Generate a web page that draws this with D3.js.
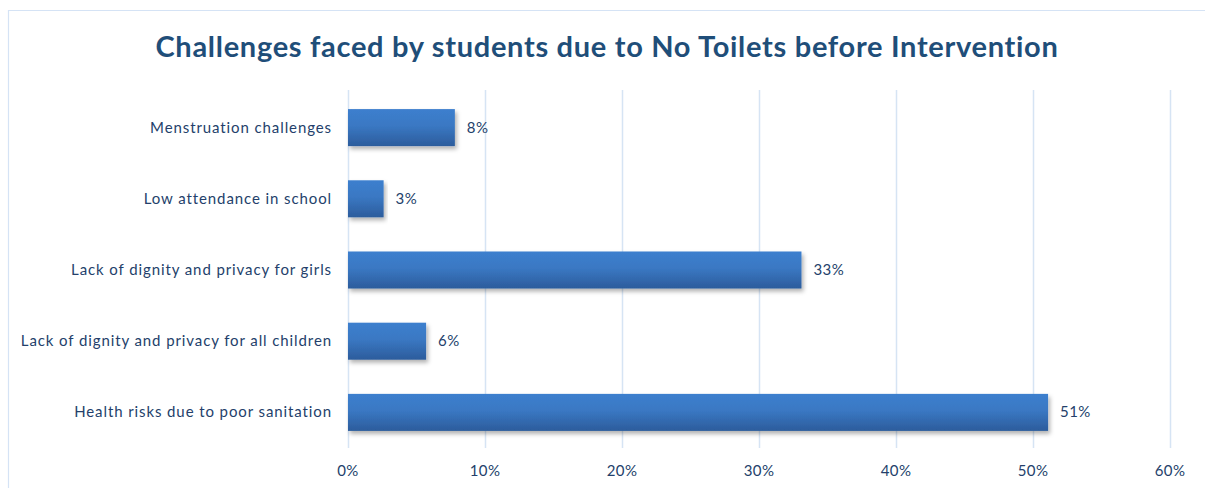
<!DOCTYPE html>
<meta charset="utf-8">
<html>
<style>
body { margin:0; background:#fff; }
text { font-family: Lato, "Open Sans", sans-serif; }
</style>
<body>
<script src="https://cdn.jsdelivr.net/npm/d3@7"></script>
<script>
var categories = ["Menstruation challenges", "Low attendance in school", "Lack of dignity and privacy for girls", "Lack of dignity and privacy for all children", "Health risks due to poor sanitation"];
var values = [7.8, 2.6, 33.1, 5.7, 51.1];
var valueLabels = ["8%", "3%", "33%", "6%", "51%"];
var ticks = [0, 10, 20, 30, 40, 50, 60];

var width = 1205, height = 488;
var svg = d3.select("body").append("svg").attr("width", width).attr("height", height);

var defs = svg.append("defs");
var grad = defs.append("linearGradient").attr("id", "barGrad").attr("x1", 0).attr("y1", 0).attr("x2", 0).attr("y2", 1);
grad.append("stop").attr("offset", "0%").attr("stop-color", "#3c7fce");
grad.append("stop").attr("offset", "45%").attr("stop-color", "#3a78c3");
grad.append("stop").attr("offset", "100%").attr("stop-color", "#2c5c9c");
var shadow = defs.append("filter").attr("id", "shadow").attr("x", "-5%").attr("y", "-20%").attr("width", "115%").attr("height", "160%");
shadow.append("feDropShadow").attr("dx", 2).attr("dy", 3).attr("stdDeviation", 2).attr("flood-color", "#000").attr("flood-opacity", 0.3);

// chart border
svg.append("path").attr("d", "M8.5," + height + "V10.5H" + width)
  .attr("fill", "none").attr("stroke", "#d5e3f5").attr("stroke-width", 1.2);

svg.append("text").attr("x", 607).attr("y", 57).attr("text-anchor", "middle")
  .attr("font-size", 29).attr("font-weight", "bold").attr("fill", "#1f4e79")
  .attr("letter-spacing", 0.7)
  .text("Challenges faced by students due to No Toilets before Intervention");

var x = d3.scaleLinear().domain([0, 60]).range([348, 1170]);
var y = d3.scaleBand().domain(categories).range([92, 448]).paddingInner(0.48).paddingOuter(0.24);

// gridlines
svg.append("g").selectAll("line").data(ticks).enter().append("line")
  .attr("x1", d => x(d) + 0.5).attr("x2", d => x(d) + 0.5)
  .attr("y1", 90).attr("y2", 448)
  .attr("stroke", "#d6e4f4").attr("stroke-width", 1.5);

// bars
svg.append("g").selectAll("rect").data(categories).enter().append("rect")
  .attr("x", x(0)).attr("y", d => y(d))
  .attr("width", (d, i) => x(values[i]) - x(0)).attr("height", y.bandwidth())
  .attr("fill", "url(#barGrad)").attr("filter", "url(#shadow)");

// value labels
svg.append("g").selectAll("text").data(categories).enter().append("text")
  .attr("x", (d, i) => x(values[i]) + 12).attr("y", d => y(d) + y.bandwidth() / 2 + 5)
  .attr("font-size", 15).attr("fill", "#243f6b").attr("letter-spacing", 0.4)
  .text((d, i) => valueLabels[i]);

// category labels
svg.append("g").selectAll("text").data(categories).enter().append("text")
  .attr("x", 332).attr("y", d => y(d) + y.bandwidth() / 2 + 5)
  .attr("text-anchor", "end").attr("font-size", 15).attr("fill", "#243f6b")
  .attr("letter-spacing", 0.9)
  .text(d => d);

// x axis tick labels
svg.append("g").selectAll("text").data(ticks).enter().append("text")
  .attr("x", d => x(d)).attr("y", 476).attr("text-anchor", "middle")
  .attr("font-size", 15).attr("fill", "#243f6b").attr("letter-spacing", 0.4)
  .text(d => d + "%");
</script>
</body>
</html>
